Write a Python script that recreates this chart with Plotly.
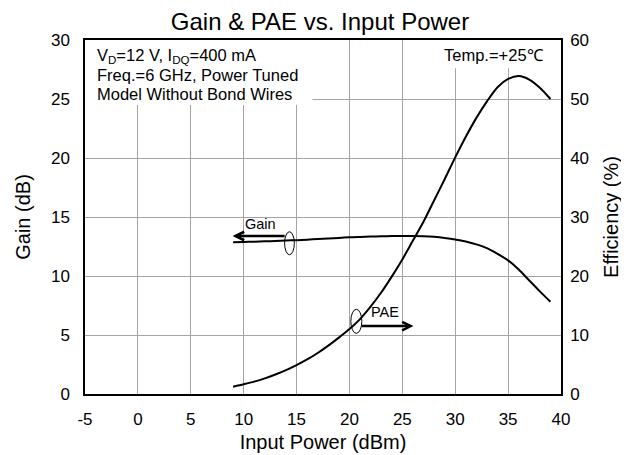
import plotly.graph_objects as go

# ---------------- data ----------------
pin_dbm = [9, 10, 11, 12, 13, 14, 15, 16, 17, 18, 19, 20, 21, 22, 23, 24,
           25, 26, 27, 28, 29, 30, 31, 32, 33, 34, 35, 36, 37, 38, 39]
gain_db = [12.86, 12.88, 12.91, 12.94, 12.97, 13.00, 13.04, 13.08, 13.13, 13.18,
           13.23, 13.28, 13.31, 13.34, 13.36, 13.38, 13.39, 13.39, 13.37, 13.32,
           13.23, 13.10, 12.92, 12.68, 12.36, 11.88, 11.32, 10.55, 9.62, 8.70, 7.82]
pae_pct = [1.24, 1.65, 2.10, 2.65, 3.30, 4.05, 4.90, 5.85, 6.95, 8.20, 9.55,
           11.0, 12.7, 14.8, 17.2, 19.9, 22.8, 26.0, 29.2, 32.8, 36.4, 40.1,
           43.6, 46.8, 49.6, 52.0, 53.4, 53.9, 53.3, 51.9, 50.0]

x_ticks = [-5, 0, 5, 10, 15, 20, 25, 30, 35, 40]
gain_ticks = [0, 5, 10, 15, 20, 25, 30]
eff_ticks = [0, 10, 20, 30, 40, 50, 60]

FONT = "Liberation Sans, Arial, Helvetica, sans-serif"
GRID = "#a4a4a4"

fig = go.Figure()
fig.add_trace(go.Scatter(x=pin_dbm, y=gain_db, mode="lines", name="Gain",
                         line=dict(color="black", width=2, shape="spline", smoothing=0.8),
                         showlegend=False, yaxis="y"))
fig.add_trace(go.Scatter(x=pin_dbm, y=pae_pct, mode="lines", name="PAE",
                         line=dict(color="black", width=2, shape="spline", smoothing=0.8),
                         showlegend=False, yaxis="y2"))

shapes = []
# white boxes behind the condition texts (hide the grid)
shapes.append(dict(type="rect", xref="x", yref="y", x0=-5, x1=16.5, y0=24.5, y1=30,
                   fillcolor="white", line=dict(width=0), layer="between"))
shapes.append(dict(type="rect", xref="x", yref="y", x0=27.7, x1=40, y0=27.6, y1=30,
                   fillcolor="white", line=dict(width=0), layer="between"))
# ellipses marking the curves
shapes.append(dict(type="circle", xref="x", yref="y", x0=13.87, x1=14.79, y0=11.8, y1=13.75,
                   line=dict(color="black", width=1), layer="above"))
shapes.append(dict(type="circle", xref="x", yref="y", x0=20.13, x1=21.17, y0=5.14, y1=7.18,
                   line=dict(color="black", width=1), layer="above"))
# Gain arrow (pointing left)
shapes.append(dict(type="line", xref="x", yref="y", x0=13.87, x1=9.25, y0=13.39, y1=13.39,
                   line=dict(color="black", width=2.5)))
shapes.append(dict(type="path", xref="x", yref="y",
                   path="M 10.05,13.75 L 9.22,13.39 L 10.05,13.03",
                   line=dict(color="black", width=2.5)))
# PAE arrow (pointing right)
shapes.append(dict(type="line", xref="x", yref="y", x0=21.17, x1=25.75, y0=5.76, y1=5.76,
                   line=dict(color="black", width=2.5)))
shapes.append(dict(type="path", xref="x", yref="y",
                   path="M 24.98,6.12 L 25.79,5.76 L 24.98,5.40",
                   line=dict(color="black", width=2.5)))

annotations = []
cond_lines = ["V<sub>D</sub>=12 V, I<sub>DQ</sub>=400 mA",
              "Freq.=6 GHz, Power Tuned",
              "Model Without Bond Wires"]
cond_y = [28.65, 27.05, 25.45]
for t, yy in zip(cond_lines, cond_y):
    annotations.append(dict(x=-4.05, y=yy, xref="x", yref="y", text=t, showarrow=False,
                            xanchor="left", yanchor="middle",
                            font=dict(family=FONT, size=16.5, color="black")))
annotations.append(dict(x=33.7, y=28.75, xref="x", yref="y", text="Temp.=+25℃",
                        showarrow=False, xanchor="center", yanchor="middle",
                        font=dict(family=FONT, size=16.5, color="black")))
annotations.append(dict(x=11.6, y=14.4, xref="x", yref="y", text="Gain",
                        showarrow=False, xanchor="center", yanchor="middle",
                        font=dict(family=FONT, size=14.5, color="black")))
annotations.append(dict(x=23.4, y=6.97, xref="x", yref="y", text="PAE",
                        showarrow=False, xanchor="center", yanchor="middle",
                        font=dict(family=FONT, size=14.5, color="black")))

axis_common = dict(showline=True, linecolor="black", linewidth=1.5,
                   zeroline=False, ticks="", automargin=False,
                   tickfont=dict(family=FONT, size=17, color="black"))

# the page adds an 8 px offset, so the margins are shifted to compensate
fig.update_layout(
    width=629, height=455,
    margin=dict(l=77, r=76, t=32, b=69, pad=0),
    paper_bgcolor="white", plot_bgcolor="white",
    title=dict(text="Gain & PAE vs. Input Power", x=312 / 629, xref="container",
               xanchor="center", y=1 - 14 / 455, yanchor="middle",
               font=dict(family=FONT, size=24, color="black")),
    xaxis=dict(range=[-5, 40], tickvals=x_ticks, ticktext=[str(v) for v in x_ticks],
               showgrid=True, gridcolor=GRID, gridwidth=1, mirror=True,
               ticklabelstandoff=9,
               title=dict(text="Input Power (dBm)", standoff=7,
                          font=dict(family=FONT, size=20, color="black")),
               **axis_common),
    yaxis=dict(range=[0, 30], tickvals=gain_ticks, ticktext=[str(v) for v in gain_ticks],
               showgrid=True, gridcolor=GRID, gridwidth=1, mirror=True,
               ticklabelstandoff=10,
               title=dict(text="Gain (dB)", standoff=15,
                          font=dict(family=FONT, size=20, color="black")),
               **axis_common),
    yaxis2=dict(range=[0, 60], tickvals=eff_ticks, ticktext=[str(v) for v in eff_ticks],
                overlaying="y", side="right", showgrid=False,
                ticklabelstandoff=4,
                title=dict(text="Efficiency (%)", standoff=16,
                           font=dict(family=FONT, size=20, color="black")),
                **axis_common),
    shapes=shapes,
    annotations=annotations,
    showlegend=False,
)

fig.write_html("out.html")
